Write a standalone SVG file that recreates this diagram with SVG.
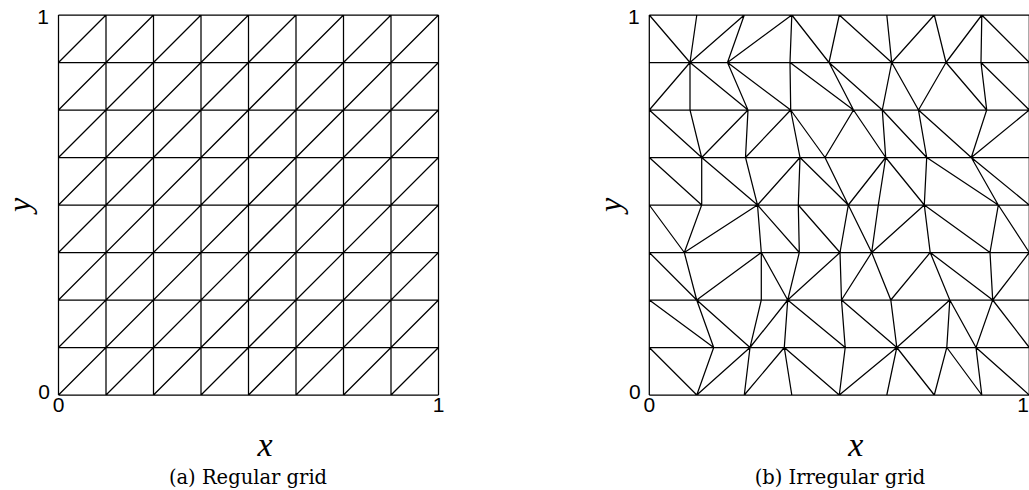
<svg xmlns="http://www.w3.org/2000/svg" width="1029" height="490" viewBox="0 0 1029 490">
<style>
.g{fill:none;stroke:#000;stroke-width:1.25;stroke-linejoin:miter}
.t{font-family:"Liberation Sans",Arial,sans-serif;font-size:21px;fill:#000}
.ax{font-family:"Liberation Serif","Times New Roman",serif;font-style:italic;font-size:34px;fill:#000}
.ay{font-family:"Liberation Serif","Times New Roman",serif;font-style:italic;font-size:32px;fill:#000}
.cap{font-family:"DejaVu Serif","Liberation Serif",serif;font-size:19.5px;fill:#000}
</style>
<rect width="1029" height="490" fill="#fff"/>
<g id="regular-grid">
<path class="g" d="M58.5 15H438.5M58.5 62.5H438.5M58.5 110H438.5M58.5 157.5H438.5M58.5 205H438.5M58.5 252.5H438.5M58.5 300H438.5M58.5 347.5H438.5M58.5 395H438.5
M58.5 15V395M106 15V395M153.5 15V395M201 15V395M248.5 15V395M296 15V395M343.5 15V395M391 15V395M438.5 15V395
M58.5 395L438.5 15M106 395L438.5 62.5M153.5 395L438.5 110M201 395L438.5 157.5M248.5 395L438.5 205M296 395L438.5 252.5M343.5 395L438.5 300M391 395L438.5 347.5
M58.5 347.5L391 15M58.5 300L343.5 15M58.5 252.5L296 15M58.5 205L248.5 15M58.5 157.5L201 15M58.5 110L153.5 15M58.5 62.5L106 15"/>
<text class="t" x="49" y="24" text-anchor="end">1</text>
<text class="t" x="50" y="399" text-anchor="end">0</text>
<text class="t" x="58.5" y="412" text-anchor="middle">0</text>
<text class="t" x="438.5" y="412" text-anchor="middle">1</text>
<text class="ax" x="265" y="456" text-anchor="middle">x</text>
<text class="ay" transform="translate(30 205) rotate(-90)" text-anchor="middle">y</text>
<text class="cap" x="248" y="484" text-anchor="middle">(a) Regular grid</text>
</g>
<g id="irregular-grid">
<path class="g" d="M649.3 15H1029.3M649.3 62.5H1029.3M649.3 110H1029.3M649.3 157.5H1029.3M649.3 205H1029.3M649.3 252.5H1029.3M649.3 300H1029.3M649.3 347.5H1029.3M649.3 395H1029.3
M649.3 15V395M1029.3 15V395
M696.8 15L690 62.5L690 110L701.7 157.5L701.7 205L684.3 252.5L696.7 300L713.7 347.5L696.8 395
M744.3 15L727.5 62.5L748 110L745.5 157.5L757.5 205L761.3 252.5L761.3 300L750 347.5L744.3 395
M791.8 15L790 62.5L790.7 110L800 157.5L798.3 205L799.3 252.5L787.7 300L784.3 347.5L791.8 395
M839.3 15L829 62.5L853.5 110L825 157.5L848.3 205L840 252.5L841.5 300L845.2 347.5L839.3 395
M886.8 15L891.7 62.5L882.3 110L885.7 157.5L878.3 205L871.7 252.5L890.8 300L896.8 347.5L886.8 395
M934.3 15L946 62.5L918.5 110L926.7 157.5L924.3 205L930.2 252.5L949.8 300L946.8 347.5L934.3 395
M981.8 15L981 62.5L986.7 110L971.3 157.5L998.3 205L990 252.5L992.7 300L976 347.5L981.8 395
M649.3 15L690 62.5M690 62.5L744.3 15M727.5 62.5L791.8 15M791.8 15L829 62.5M839.3 15L891.7 62.5M891.7 62.5L934.3 15M946 62.5L981.8 15M981.8 15L1029.3 62.5
M649.3 110L690 62.5M690 62.5L748 110M727.5 62.5L790.7 110M790 62.5L853.5 110M829 62.5L882.3 110M891.7 62.5L918.5 110M946 62.5L986.7 110M981 62.5L1029.3 110
M649.3 110L701.7 157.5M701.7 157.5L748 110M745.5 157.5L790.7 110M790.7 110L825 157.5M853.5 110L885.7 157.5M882.3 110L926.7 157.5M918.5 110L971.3 157.5M971.3 157.5L1029.3 110
M649.3 157.5L701.7 205M701.7 157.5L757.5 205M757.5 205L800 157.5M800 157.5L848.3 205M848.3 205L885.7 157.5M885.7 157.5L924.3 205M926.7 157.5L998.3 205M971.3 157.5L1029.3 205
M649.3 205L684.3 252.5M684.3 252.5L757.5 205M757.5 205L799.3 252.5M798.3 205L840 252.5M848.3 205L871.7 252.5M871.7 252.5L924.3 205M924.3 205L990 252.5M998.3 205L1029.3 252.5
M649.3 252.5L696.7 300M696.7 300L761.3 252.5M761.3 252.5L787.7 300M787.7 300L840 252.5M841.5 300L871.7 252.5M890.8 300L930.2 252.5M930.2 252.5L992.7 300M992.7 300L1029.3 252.5
M649.3 300L713.7 347.5M696.7 300L750 347.5M750 347.5L787.7 300M787.7 300L845.2 347.5M841.5 300L896.8 347.5M896.8 347.5L949.8 300M949.8 300L976 347.5M992.7 300L1029.3 347.5
M649.3 347.5L696.8 395M696.8 395L750 347.5M744.3 395L784.3 347.5M784.3 347.5L839.3 395M839.3 395L896.8 347.5M896.8 347.5L934.3 395M946.8 347.5L981.8 395M976 347.5L1029.3 395"/>
<text class="t" x="639.8" y="24" text-anchor="end">1</text>
<text class="t" x="640.8" y="399" text-anchor="end">0</text>
<text class="t" x="649.3" y="412" text-anchor="middle">0</text>
<text class="t" x="1029" y="412" text-anchor="end">1</text>
<text class="ax" x="855.8" y="456" text-anchor="middle">x</text>
<text class="ay" transform="translate(620.8 205) rotate(-90)" text-anchor="middle">y</text>
<text class="cap" x="840" y="484" text-anchor="middle">(b) Irregular grid</text>
</g>
</svg>
